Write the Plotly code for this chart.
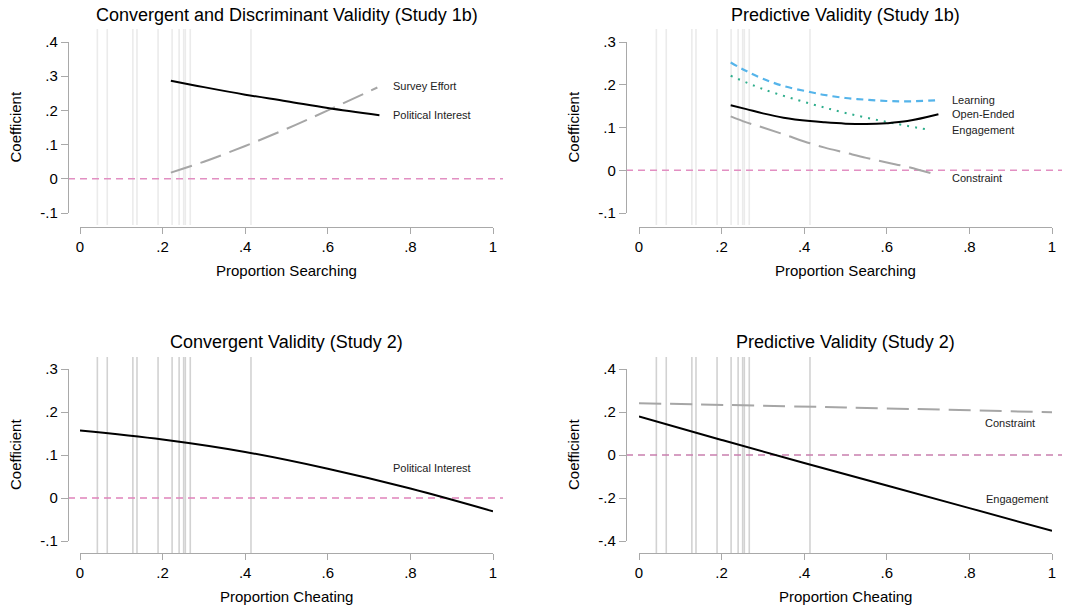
import plotly.graph_objects as go

W, H = 1066, 609

# ---------------- data ----------------
rug_x = [0.042, 0.066, 0.128, 0.138, 0.189, 0.223, 0.240, 0.251, 0.255, 0.267, 0.414]

# Panel 1: Convergent and Discriminant Validity (Study 1b)
p1_x = [0.22, 0.30, 0.40, 0.50, 0.60, 0.725]
p1_polint = [0.287, 0.268, 0.246, 0.227, 0.207, 0.186]
p1_effort_x = [0.22, 0.30, 0.40, 0.50, 0.60, 0.72]
p1_effort = [0.018, 0.050, 0.096, 0.146, 0.200, 0.267]

# Panel 2: Predictive Validity (Study 1b)
p2_x = [0.222, 0.26, 0.30, 0.35, 0.414, 0.45, 0.50, 0.55, 0.60, 0.65, 0.725]
p2_learning = [0.252, 0.232, 0.214, 0.197, 0.183, 0.176, 0.169, 0.165, 0.162, 0.161, 0.164]
p2_open = [0.152, 0.143, 0.133, 0.123, 0.115, 0.112, 0.109, 0.108, 0.110, 0.115, 0.131]
p2_constraint = [0.126, 0.112, 0.100, 0.084, 0.063, 0.053, 0.041, 0.029, 0.018, 0.008, -0.012]
p2_eng_x = [0.222, 0.30, 0.414, 0.50, 0.60, 0.70]
p2_engagement = [0.221, 0.190, 0.156, 0.134, 0.113, 0.095]

# Panel 3: Convergent Validity (Study 2)
p3_x = [0.0, 0.2, 0.4, 0.6, 0.8, 1.0]
p3_polint = [0.157, 0.136, 0.107, 0.068, 0.022, -0.031]

# Panel 4: Predictive Validity (Study 2)
p4_cx = [0.0, 0.5, 1.0]
p4_constraint = [0.241, 0.221, 0.199]
p4_ex = [0.0, 0.2, 0.4, 0.6, 0.8, 1.0]
p4_engagement = [0.179, 0.070, -0.037, -0.142, -0.247, -0.353]

x_ticks = [0, 0.2, 0.4, 0.6, 0.8, 1]
x_ticktext = ["0", ".2", ".4", ".6", ".8", "1"]

# ---------------- layout helpers ----------------
def px(v):
    return v / W

def py(v):
    return 1 - v / H

FONT = "Liberation Sans, Arial, sans-serif"
AXC = "#a9a9a9"

panels = [
    dict(ax="", title="Convergent and Discriminant Validity (Study 1b)", xt="Proportion Searching",
         yax_px=68, ydom=(42, 213), yrange=(-0.1, 0.4), xdom=(80, 493), xline=227, rug=(29, 225),
         zero=(68, 503), rugc="#ebebeb", zc="#e28fc2",
         yticks=[-0.1, 0, 0.1, 0.2, 0.3, 0.4], yticktext=["-.1", "0", ".1", ".2", ".3", ".4"]),
    dict(ax="2", title="Predictive Validity (Study 1b)", xt="Proportion Searching",
         yax_px=626, ydom=(42, 213), yrange=(-0.1, 0.3), xdom=(639, 1052), xline=227, rug=(29, 225),
         zero=(626, 1062), rugc="#ebebeb", zc="#e28fc2",
         yticks=[-0.1, 0, 0.1, 0.2, 0.3], yticktext=["-.1", "0", ".1", ".2", ".3"]),
    dict(ax="3", title="Convergent Validity (Study 2)", xt="Proportion Cheating",
         yax_px=68, ydom=(369, 541), yrange=(-0.1, 0.3), xdom=(80, 493), xline=553, rug=(357, 553),
         zero=(68, 503), rugc="#d2d2d2", zc="#e082bb",
         yticks=[-0.1, 0, 0.1, 0.2, 0.3], yticktext=["-.1", "0", ".1", ".2", ".3"]),
    dict(ax="4", title="Predictive Validity (Study 2)", xt="Proportion Cheating",
         yax_px=626, ydom=(369, 541), yrange=(-0.4, 0.4), xdom=(639, 1052), xline=553, rug=(357, 553),
         zero=(626, 1062), rugc="#d2d2d2", zc="#c97fae",
         yticks=[-0.4, -0.2, 0, 0.2, 0.4], yticktext=["-.4", "-.2", "0", ".2", ".4"]),
]

fig = go.Figure()

def add_line(p, x, y, color, dash, width=2.0):
    fig.add_trace(go.Scatter(x=x, y=y, mode="lines",
                             line=dict(color=color, dash=dash, width=width, shape="spline", smoothing=1.0),
                             xaxis="x" + p["ax"], yaxis="y" + p["ax"], showlegend=False, hoverinfo="skip"))

P1, P2, P3, P4 = panels
GRAY = "#a6a6a6"
add_line(P1, p1_effort_x, p1_effort, GRAY, "22px,9px")
add_line(P1, p1_x, p1_polint, "black", "solid")

add_line(P2, p2_x, p2_constraint, GRAY, "22px,9px")
add_line(P2, p2_eng_x, p2_engagement, "#2fae8c", "2px,6px", 2.0)
add_line(P2, p2_x, p2_learning, "#55b4ea", "7px,5px", 2.2)
add_line(P2, p2_x, p2_open, "black", "solid")

add_line(P3, p3_x, p3_polint, "black", "solid")

add_line(P4, p4_cx, p4_constraint, GRAY, "22px,9px")
add_line(P4, p4_ex, p4_engagement, "black", "solid")

shapes = []
annotations = []
layout_axes = {}
for p in panels:
    a = p["ax"]
    xname = "xaxis" + a
    yname = "yaxis" + a
    layout_axes[xname] = dict(
        domain=[px(p["xdom"][0]), px(p["xdom"][1])], range=[0, 1],
        anchor="free", position=py(p["xline"]), automargin=False,
        showline=True, linecolor=AXC, linewidth=1.4,
        ticks="outside", ticklen=6, tickwidth=1.2, tickcolor=AXC,
        tickvals=x_ticks, ticktext=x_ticktext,
        tickfont=dict(family=FONT, size=15, color="black"),
        showgrid=False, zeroline=False, fixedrange=True,
    )
    layout_axes[yname] = dict(
        domain=[py(p["ydom"][1]), py(p["ydom"][0])], range=list(p["yrange"]),
        anchor="free", position=px(p["yax_px"]), automargin=False,
        showline=True, linecolor=AXC, linewidth=1.4,
        ticks="outside", ticklen=7, tickwidth=1.2, tickcolor=AXC,
        tickvals=p["yticks"], ticktext=p["yticktext"],
        tickfont=dict(family=FONT, size=15, color="black"),
        showgrid=False, zeroline=False, fixedrange=True,
    )
    # rug lines
    for rx in rug_x:
        shapes.append(dict(type="line", xref="x" + a, yref="paper", x0=rx, x1=rx,
                           y0=py(p["rug"][1]), y1=py(p["rug"][0]),
                           line=dict(color=p["rugc"], width=1.6), layer="below"))
    # zero reference line
    shapes.append(dict(type="line", xref="paper", yref="y" + a, x0=px(p["zero"][0]), x1=px(p["zero"][1]),
                       y0=0, y1=0, line=dict(color=p["zc"], width=1.6, dash="7px,5px"), layer="below"))
    cx = (p["xdom"][0] + p["xdom"][1]) / 2
    # title
    annotations.append(dict(text=p["title"], xref="paper", yref="paper", x=px(cx),
                            y=py(p["ydom"][0] - 27), xanchor="center", yanchor="middle", showarrow=False,
                            font=dict(family=FONT, size=18, color="black")))
    # x title
    annotations.append(dict(text=p["xt"], xref="paper", yref="paper", x=px(cx),
                            y=py(p["xline"] + 43), xanchor="center", yanchor="middle", showarrow=False,
                            font=dict(family=FONT, size=15, color="black")))
    # y title
    annotations.append(dict(text="Coefficient", xref="paper", yref="paper", x=px(p["yax_px"] - 53),
                            y=py((p["ydom"][0] + p["ydom"][1]) / 2), xanchor="center", yanchor="middle",
                            textangle=-90, showarrow=False,
                            font=dict(family=FONT, size=15, color="black")))

def label(p, x, y, text):
    a = p["ax"]
    annotations.append(dict(text=text, xref="x" + a, yref="y" + a, x=x, y=y, xanchor="left",
                            yanchor="middle", showarrow=False,
                            font=dict(family=FONT, size=11, color="#222222")))

label(P1, 0.754, 0.272, "Survey Effort")
label(P1, 0.754, 0.187, "Political Interest")
label(P2, 0.753, 0.165, "Learning")
label(P2, 0.753, 0.131, "Open-Ended")
label(P2, 0.753, 0.094, "Engagement")
label(P2, 0.753, -0.017, "Constraint")
label(P3, 0.754, 0.070, "Political Interest")
label(P4, 0.834, 0.148, "Constraint")
label(P4, 0.835, -0.205, "Engagement")

fig.update_layout(
    width=W, height=H,
    margin=dict(l=0, r=0, t=0, b=0, pad=0, autoexpand=False),
    paper_bgcolor="white", plot_bgcolor="white",
    shapes=shapes, annotations=annotations,
    showlegend=False,
    **layout_axes,
)

fig.write_html("out.html", config={"displayModeBar": False})
